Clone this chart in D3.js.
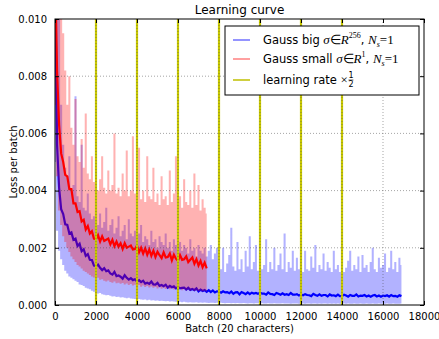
<!DOCTYPE html>
<html>
<head>
<meta charset="utf-8">
<script src="https://cdn.jsdelivr.net/npm/d3@7"></script>
<style>
  body { margin: 0; background: #fff; }
  text { font-family: "DejaVu Sans", sans-serif; }
</style>
</head>
<body>
<div id="chart"></div>
<script>
// values are in units of 1e-5 (loss), one sample per 100 batches
const UNIT = 1e-5;
const STEP = 100;

const blueSmooth = [
  1200,560,410,335,318,282,280,250,254,228,232,206,214,188,195,172,178,158,157,138,
  136,141,130,122,129,118,121,110,106,116,101,103,99,92,104,95,89,94,87,90,
  82,87,80,85,75,78,74,82,72,71,77,67,70,66,71,61,67,62,65,58,
  63,58,60,61,54,60,53,56,52,58,48,54,49,52,46,52,45,51,44,48,
  47,43,48,44,45,41,47,39,44,45,37,45,42,38,44,38,43,40,42,39,
  43,40,40,36,44,39,38,35,42,39,36,41,36,38,35,42,36,36,38,33,
  37,34,38,35,34,31,39,35,32,37,32,35,35,30,37,33,34,31,36,31,
  31,36,33,29,35,32,32,37,30,33,32,35,30,33,29,33,35,30,33,29,
  33,31,34,29,35,31,32,29,34,31
];
const blueHi = [
  1200,1200,1000,700,560,480,450,520,400,420,730,380,360,560,340,330,390,320,300,310,
  300,280,320,270,290,340,260,280,300,250,270,310,240,260,280,230,300,250,240,260,
  230,250,280,220,240,230,210,260,220,230,200,240,220,210,250,200,220,190,230,210,
  200,220,190,210,200,180,230,190,200,170,210,190,180,200,170,190,210,160,180,200,
  135,125,200,115,145,175,270,135,120,220,125,160,115,190,135,240,125,150,210,120,
  160,125,140,230,115,150,125,200,120,140,180,125,250,115,150,130,190,120,165,125,
  140,115,190,125,120,170,130,210,115,140,125,180,120,150,130,115,190,125,140,115,
  165,115,130,155,190,120,140,125,170,115,175,130,140,115,150,200,125,115,165,130,
  140,180,115,130,190,125,150,115,165,140
];
const blueLo = [
  500,260,190,160,140,120,110,100,95,90,85,80,72,70,66,60,58,55,50,46,
  44,40,42,38,36,34,35,32,30,31,28,29,26,27,25,24,25,23,22,21,
  20,21,19,18,19,17,18,16,17,15,16,14,15,14,13,14,12,13,12,11,
  12,11,10,11,10,9,10,9,9,10,8,9,8,9,8,7,8,8,7,8,
  7,8,7,6,7,7,6,7,6,7,6,6,7,6,5,6,6,5,6,6,
  5,6,5,5,6,5,5,6,5,5,5,6,5,5,5,4,5,5,5,4,
  5,5,4,5,5,4,5,5,4,5,4,5,5,4,5,4,5,4,5,4,
  4,5,4,5,4,4,5,4,4,5,4,4,5,4,4,5,4,4,5,4,
  4,4,5,4,4,5,4,4,4,5
];

const redSmooth = [
  1200,820,630,530,500,455,450,405,405,355,355,325,328,292,298,264,276,250,258,232,
  230,244,222,240,224,228,232,212,228,206,222,204,216,196,216,200,204,208,194,196,
  208,184,200,180,198,176,194,172,190,168,186,174,164,184,166,168,180,156,176,162,
  154,174,158,160,170,150,158,166,144,160,138,154,132,148,128
];
const redHi = [
  1200,1200,1100,1000,950,820,700,800,620,560,720,520,500,580,480,670,460,440,520,430,
  420,400,440,520,410,390,470,400,420,600,390,410,380,460,400,540,380,400,590,390,
  380,550,370,400,360,520,380,370,480,360,390,350,450,370,380,350,470,360,390,520,
  360,380,340,440,360,350,400,340,460,350,420,330,370,340,320
];
const redLo = [
  700,450,330,280,240,220,200,185,170,160,150,140,135,128,120,115,110,105,100,96,
  92,95,88,90,85,82,86,80,78,82,76,78,74,77,72,75,70,73,68,71,
  66,70,64,68,63,66,61,65,60,63,58,62,57,60,56,59,55,58,54,57,
  53,56,52,55,51,54,50,53,49,52,48,51,47,50,46
];

const lrSteps = [2000, 4000, 6000, 8000, 10000, 12000, 14000];
const xTicks = [0, 2000, 4000, 6000, 8000, 10000, 12000, 14000, 16000, 18000];
const yTicks = [0, 0.002, 0.004, 0.006, 0.008, 0.010];

const W = 439, H = 339;
const m = { left: 55, right: 15, top: 19, bottom: 34 };

const svg = d3.select('#chart').append('svg')
  .attr('width', W).attr('height', H)
  .style('background', '#fff');

const x = d3.scaleLinear().domain([0, 18000]).range([m.left, W - m.right]);
const y = d3.scaleLinear().domain([0, 0.010]).range([H - m.bottom, m.top]);

svg.append('clipPath').attr('id', 'clip')
  .append('rect')
  .attr('x', m.left).attr('y', m.top)
  .attr('width', x.range()[1] - m.left).attr('height', y.range()[0] - m.top);

const plot = svg.append('g').attr('clip-path', 'url(#clip)');

function rows(hi, lo, mid) {
  return mid.map((v, i) => ({ b: i * STEP, hi: hi[i] * UNIT, lo: lo[i] * UNIT, mid: v * UNIT }));
}
const blue = rows(blueHi, blueLo, blueSmooth);
const red = rows(redHi, redLo, redSmooth);

const band = d3.area().curve(d3.curveStep)
  .x(d => x(d.b)).y0(d => y(d.lo)).y1(d => y(d.hi));
const line = d3.line().x(d => x(d.b)).y(d => y(d.mid));

plot.append('path').datum(blue).attr('d', band)
  .attr('fill', 'blue').attr('fill-opacity', 0.3);
plot.append('path').datum(blue).attr('d', line)
  .attr('fill', 'none').attr('stroke', 'blue').attr('stroke-width', 2.2);
plot.append('path').datum(red).attr('d', band)
  .attr('fill', 'red').attr('fill-opacity', 0.3);
plot.append('path').datum(red).attr('d', line)
  .attr('fill', 'none').attr('stroke', 'red').attr('stroke-width', 2.2);

// learning rate halving marks
plot.selectAll('.lr').data(lrSteps).enter().append('line')
  .attr('x1', d => x(d)).attr('x2', d => x(d))
  .attr('y1', y(0)).attr('y2', y(0.010))
  .attr('stroke', '#c8c800').attr('stroke-width', 2.2);

// grid on top (classic style)
const grid = svg.append('g')
  .attr('stroke', '#444').attr('stroke-width', 0.6)
  .attr('stroke-dasharray', '1,2').attr('opacity', 0.8);
xTicks.slice(1, -1).forEach(t => grid.append('line')
  .attr('x1', x(t)).attr('x2', x(t)).attr('y1', y(0)).attr('y2', y(0.010)));
yTicks.slice(1, -1).forEach(t => grid.append('line')
  .attr('y1', y(t)).attr('y2', y(t)).attr('x1', x(0)).attr('x2', x(18000)));

// axes with inward ticks on all sides
svg.append('g').attr('transform', `translate(0,${y(0)})`)
  .call(d3.axisBottom(x).tickValues(xTicks).tickFormat(d3.format('d'))
    .tickSizeInner(-4).tickSizeOuter(0).tickPadding(8))
  .call(g => g.select('.domain').remove());
svg.append('g').attr('transform', `translate(0,${y(0.010)})`)
  .call(d3.axisTop(x).tickValues(xTicks).tickSizeInner(-4).tickSizeOuter(0).tickFormat(''))
  .call(g => g.select('.domain').remove());
svg.append('g').attr('transform', `translate(${x(0)},0)`)
  .call(d3.axisLeft(y).tickValues(yTicks).tickFormat(d3.format('.3f'))
    .tickSizeInner(-4).tickSizeOuter(0).tickPadding(8))
  .call(g => g.select('.domain').remove());
svg.append('g').attr('transform', `translate(${x(18000)},0)`)
  .call(d3.axisRight(y).tickValues(yTicks).tickSizeInner(-4).tickSizeOuter(0).tickFormat(''))
  .call(g => g.select('.domain').remove());
svg.selectAll('.tick text').attr('font-family', 'DejaVu Sans').attr('font-size', 10).attr('fill', '#000');
svg.selectAll('.tick line').attr('stroke', '#000');

svg.append('rect')
  .attr('x', x(0)).attr('y', y(0.010))
  .attr('width', x(18000) - x(0)).attr('height', y(0) - y(0.010))
  .attr('fill', 'none').attr('stroke', '#000').attr('stroke-width', 1);

svg.append('text').attr('x', (x(0) + x(18000)) / 2).attr('y', 14)
  .attr('text-anchor', 'middle').attr('font-size', 12).text('Learning curve');
svg.append('text').attr('x', (x(0) + x(18000)) / 2).attr('y', 332)
  .attr('text-anchor', 'middle').attr('font-size', 10).text('Batch (20 characters)');
svg.append('text')
  .attr('transform', `translate(17,${(y(0) + y(0.010)) / 2}) rotate(-90)`)
  .attr('text-anchor', 'middle').attr('font-size', 10).text('Loss per batch');

// legend
const lg = svg.append('g').attr('transform', 'translate(225,26)');
lg.append('rect').attr('width', 194).attr('height', 69)
  .attr('fill', '#fff').attr('stroke', '#000').attr('stroke-width', 1);
const math = 'Liberation Serif, serif';
const entries = [
  { color: '#7070ff', yy: 14 },
  { color: '#ff8080', yy: 33 },
  { color: '#bfbf00', yy: 54 }
];
entries.forEach(e => lg.append('line')
  .attr('x1', 8).attr('x2', 25).attr('y1', e.yy).attr('y2', e.yy)
  .attr('stroke', e.color).attr('stroke-width', 1.5));

function mathLabel(yy, name, sup) {
  const t = lg.append('text').attr('x', 38).attr('y', yy + 4).attr('font-size', 11.5);
  t.append('tspan').text(name);
  t.append('tspan').attr('font-family', math).attr('font-style', 'italic').attr('font-size', 13).text('σ');
  t.append('tspan').attr('font-family', math).attr('font-size', 13).text('∈');
  t.append('tspan').attr('font-family', math).attr('font-style', 'italic').attr('font-size', 13).text('R');
  t.append('tspan').attr('font-family', math).attr('font-size', 8).attr('dy', -6).text(sup);
  t.append('tspan').attr('dy', 6).text(', ');
  t.append('tspan').attr('font-family', math).attr('font-style', 'italic').attr('font-size', 13).text('N');
  t.append('tspan').attr('font-family', math).attr('font-style', 'italic').attr('font-size', 8).attr('dy', 3).text('s');
  t.append('tspan').attr('font-family', math).attr('font-size', 13).attr('dy', -3).text('=1');
}
mathLabel(14, 'Gauss big ', '256');
mathLabel(33, 'Gauss small ', '1');

const lr = lg.append('text').attr('x', 38).attr('y', 58).attr('font-size', 11.5);
lr.append('tspan').text('learning rate ');
lr.append('tspan').attr('font-family', math).attr('font-size', 13).text('×');
const lrEnd = lr.node().getComputedTextLength() + 38;
lg.append('text').attr('x', lrEnd + 3).attr('y', 52).attr('font-family', math)
  .attr('font-size', 8).attr('text-anchor', 'middle').text('1');
lg.append('line').attr('x1', lrEnd + 0.5).attr('x2', lrEnd + 5.5)
  .attr('y1', 54).attr('y2', 54).attr('stroke', '#000').attr('stroke-width', 0.6);
lg.append('text').attr('x', lrEnd + 3).attr('y', 61).attr('font-family', math)
  .attr('font-size', 8).attr('text-anchor', 'middle').text('2');
</script>
</body>
</html>
